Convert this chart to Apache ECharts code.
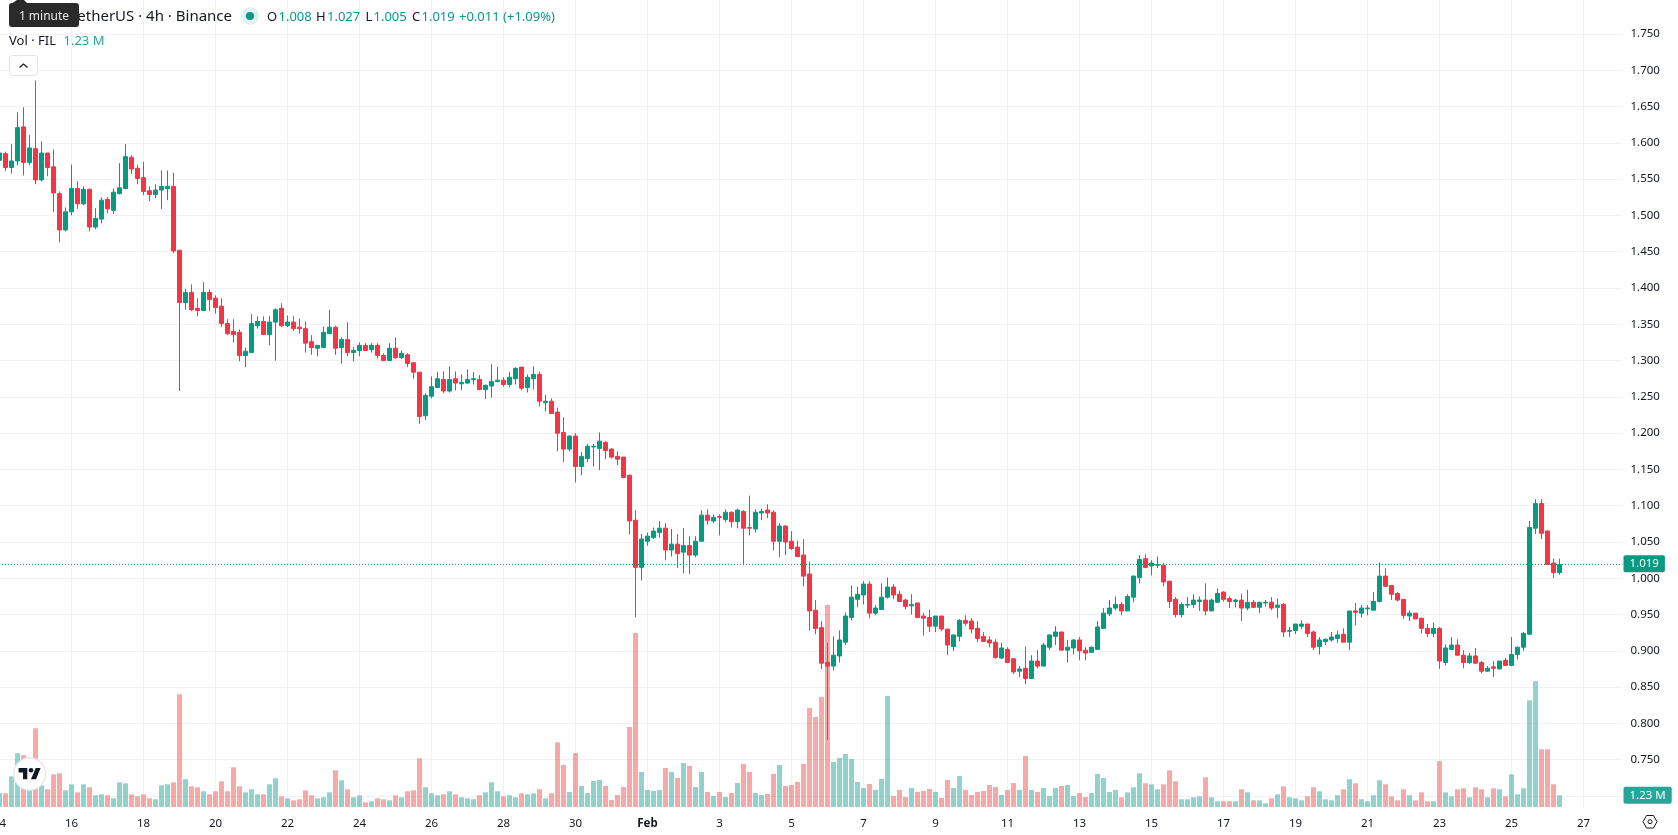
<!DOCTYPE html>
<html>
<head>
<meta charset="utf-8">
<title>FIL / TetherUS 4h</title>
<style>
  html, body { margin: 0; padding: 0; background: #fff; }
  #chart { width: 1678px; height: 835px; }
</style>
<script src="https://cdn.jsdelivr.net/npm/echarts@6/dist/echarts.min.js"></script>
</head>
<body>
<div id="chart"></div>
<script>
// FIL/USDT 4h bars, oldest first, one bar every four hours from 14 Jan.
const open = [
1.576,1.585,1.566,1.575,1.622,1.573,1.592,1.549,1.586,1.567,
1.530,1.480,1.505,1.537,1.516,1.536,1.484,1.495,1.522,1.507,
1.530,1.537,1.580,1.565,1.552,1.534,1.529,1.535,1.537,1.540,
1.452,1.380,1.394,1.372,1.369,1.394,1.386,1.375,1.351,1.340,
1.339,1.307,1.311,1.348,1.354,1.336,1.353,1.372,1.348,1.353,
1.346,1.344,1.326,1.317,1.318,1.337,1.346,1.318,1.329,1.311,
1.314,1.321,1.315,1.321,1.307,1.300,1.317,1.304,1.308,1.297,
1.284,1.224,1.251,1.263,1.274,1.258,1.275,1.268,1.269,1.274,
1.274,1.260,1.265,1.271,1.273,1.267,1.275,1.291,1.263,1.275,
1.281,1.242,1.244,1.229,1.201,1.178,1.196,1.154,1.165,1.181,
1.179,1.187,1.178,1.168,1.167,1.142,1.080,1.015,1.051,1.056,
1.063,1.069,1.039,1.047,1.036,1.045,1.032,1.051,1.087,1.079,
1.085,1.081,1.091,1.078,1.092,1.070,1.068,1.090,1.094,1.091,
1.051,1.072,1.051,1.043,1.032,1.006,0.956,0.932,0.884,0.879,
0.893,0.912,0.946,0.971,0.977,0.992,0.952,0.957,0.974,0.988,
0.978,0.970,0.962,0.966,0.948,0.946,0.934,0.948,0.930,0.906,
0.920,0.942,0.941,0.931,0.920,0.915,0.912,0.890,0.902,0.889,
0.872,0.876,0.862,0.886,0.879,0.905,0.920,0.926,0.901,0.904,
0.915,0.901,0.898,0.902,0.931,0.951,0.959,0.964,0.955,0.974,
1.001,1.027,1.017,1.018,1.018,0.996,0.971,0.950,0.963,0.964,
0.968,0.970,0.955,0.967,0.981,0.972,0.968,0.970,0.959,0.967,
0.960,0.966,0.967,0.960,0.964,0.927,0.928,0.934,0.937,0.926,
0.906,0.913,0.915,0.917,0.923,0.912,0.955,0.952,0.958,0.956,
0.968,1.003,0.990,0.979,0.971,0.948,0.952,0.945,0.931,0.924,
0.931,0.884,0.902,0.908,0.894,0.884,0.893,0.884,0.872,0.878,
0.875,0.887,0.880,0.895,0.905,0.923,1.069,1.103,1.065,1.021,
1.008];

const high = [
1.593,1.588,1.598,1.642,1.649,1.611,1.686,1.602,1.586,1.591,
1.533,1.511,1.570,1.547,1.540,1.537,1.510,1.525,1.525,1.537,
1.572,1.598,1.583,1.570,1.574,1.540,1.543,1.562,1.562,1.559,
1.452,1.399,1.405,1.386,1.408,1.398,1.390,1.386,1.357,1.357,
1.343,1.318,1.364,1.361,1.361,1.361,1.372,1.379,1.362,1.361,
1.358,1.354,1.335,1.321,1.347,1.370,1.348,1.332,1.353,1.319,
1.325,1.324,1.324,1.324,1.310,1.324,1.332,1.314,1.310,1.297,
1.284,1.255,1.278,1.284,1.285,1.292,1.285,1.281,1.288,1.284,
1.280,1.267,1.295,1.291,1.277,1.284,1.291,1.291,1.281,1.292,
1.285,1.253,1.248,1.235,1.222,1.197,1.200,1.174,1.185,1.185,
1.201,1.189,1.179,1.175,1.167,1.143,1.094,1.061,1.063,1.070,
1.079,1.076,1.068,1.061,1.069,1.058,1.058,1.094,1.095,1.088,
1.088,1.095,1.092,1.096,1.094,1.114,1.095,1.096,1.102,1.094,
1.076,1.073,1.065,1.052,1.054,1.023,0.970,0.941,0.911,0.920,
0.928,0.953,0.990,0.988,0.996,0.996,0.963,0.993,1.001,0.992,
0.983,0.972,0.978,0.966,0.952,0.957,0.948,0.948,0.930,0.922,
0.944,0.949,0.945,0.941,0.926,0.920,0.916,0.911,0.905,0.890,
0.879,0.906,0.894,0.901,0.911,0.922,0.934,0.926,0.915,0.916,
0.919,0.905,0.906,0.941,0.959,0.970,0.975,0.967,0.978,1.004,
1.032,1.033,1.025,1.030,1.021,0.997,0.974,0.967,0.974,0.978,
0.975,0.993,0.972,0.986,0.982,0.975,0.972,0.979,0.984,0.970,
0.967,0.970,0.974,0.972,0.966,0.933,0.937,0.942,0.937,0.928,
0.919,0.917,0.926,0.928,0.931,0.955,0.966,0.963,0.963,0.981,
1.022,1.014,0.990,0.981,0.971,0.956,0.952,0.945,0.937,0.939,
0.933,0.909,0.919,0.916,0.901,0.897,0.904,0.886,0.879,0.886,
0.886,0.890,0.919,0.906,0.926,1.079,1.109,1.109,1.066,1.027,
1.027];

const low = [
1.572,1.561,1.558,1.569,1.555,1.569,1.543,1.547,1.554,1.505,
1.463,1.478,1.500,1.509,1.514,1.478,1.481,1.489,1.503,1.502,
1.529,1.536,1.557,1.543,1.528,1.520,1.524,1.509,1.521,1.448,
1.258,1.370,1.368,1.361,1.368,1.368,1.365,1.346,1.335,1.325,
1.299,1.291,1.311,1.344,1.335,1.321,1.300,1.346,1.346,1.341,
1.337,1.311,1.308,1.306,1.317,1.337,1.308,1.296,1.306,1.299,
1.306,1.313,1.311,1.303,1.299,1.300,1.302,1.302,1.291,1.275,
1.213,1.218,1.248,1.262,1.255,1.256,1.259,1.259,1.268,1.267,
1.259,1.247,1.249,1.271,1.264,1.263,1.267,1.259,1.256,1.260,
1.237,1.230,1.227,1.175,1.160,1.175,1.132,1.142,1.160,1.154,
1.149,1.164,1.165,1.156,1.138,1.061,0.946,0.997,1.045,1.054,
1.056,1.025,1.030,1.014,1.007,1.006,1.029,1.051,1.074,1.076,
1.059,1.077,1.070,1.069,1.018,1.059,1.063,1.080,1.083,1.039,
1.029,1.032,1.039,1.029,0.989,0.928,0.923,0.875,0.777,0.873,
0.884,0.908,0.942,0.960,0.964,0.945,0.949,0.957,0.972,0.971,
0.967,0.957,0.950,0.946,0.921,0.926,0.926,0.927,0.894,0.900,
0.913,0.934,0.924,0.912,0.912,0.905,0.889,0.889,0.883,0.868,
0.864,0.854,0.861,0.876,0.879,0.901,0.908,0.901,0.884,0.895,
0.887,0.887,0.897,0.902,0.930,0.948,0.956,0.949,0.955,0.967,
0.993,1.014,1.004,1.014,0.989,0.959,0.946,0.946,0.959,0.959,
0.955,0.949,0.955,0.966,0.968,0.959,0.960,0.941,0.956,0.959,
0.952,0.961,0.956,0.945,0.919,0.919,0.923,0.930,0.919,0.901,
0.895,0.908,0.913,0.911,0.912,0.901,0.935,0.946,0.949,0.956,
0.967,0.988,0.970,0.968,0.944,0.941,0.944,0.924,0.919,0.919,
0.875,0.880,0.901,0.893,0.876,0.882,0.882,0.869,0.871,0.864,
0.875,0.879,0.879,0.888,0.900,0.922,1.061,1.054,1.019,1.000,
1.005];

const close = [
1.586,1.566,1.575,1.621,1.573,1.593,1.549,1.586,1.566,1.531,
1.480,1.505,1.537,1.516,1.536,1.484,1.496,1.521,1.509,1.532,
1.538,1.581,1.564,1.551,1.533,1.529,1.535,1.540,1.540,1.451,
1.380,1.394,1.370,1.369,1.394,1.384,1.373,1.351,1.337,1.336,
1.307,1.313,1.351,1.354,1.336,1.353,1.370,1.348,1.353,1.344,
1.344,1.324,1.318,1.321,1.339,1.346,1.317,1.329,1.311,1.314,
1.321,1.314,1.321,1.307,1.300,1.317,1.304,1.310,1.296,1.284,
1.223,1.252,1.264,1.275,1.258,1.274,1.269,1.270,1.274,1.275,
1.260,1.266,1.271,1.273,1.267,1.277,1.289,1.262,1.277,1.281,
1.244,1.244,1.227,1.200,1.178,1.196,1.154,1.168,1.182,1.182,
1.189,1.176,1.167,1.164,1.139,1.079,1.015,1.054,1.058,1.065,
1.069,1.039,1.047,1.034,1.045,1.032,1.051,1.087,1.080,1.084,
1.084,1.091,1.078,1.094,1.069,1.069,1.091,1.092,1.090,1.051,
1.072,1.050,1.041,1.030,1.003,0.955,0.931,0.883,0.879,0.894,
0.915,0.948,0.974,0.978,0.992,0.952,0.959,0.974,0.988,0.977,
0.968,0.961,0.964,0.946,0.945,0.934,0.948,0.930,0.908,0.922,
0.942,0.938,0.930,0.917,0.913,0.911,0.891,0.904,0.884,0.871,
0.875,0.862,0.886,0.879,0.908,0.922,0.926,0.901,0.905,0.915,
0.900,0.897,0.905,0.933,0.952,0.959,0.964,0.955,0.975,1.003,
1.026,1.015,1.021,1.019,0.995,0.968,0.950,0.964,0.964,0.970,
0.970,0.955,0.970,0.979,0.971,0.968,0.970,0.959,0.967,0.960,
0.967,0.967,0.959,0.963,0.926,0.928,0.937,0.937,0.924,0.905,
0.915,0.916,0.919,0.922,0.912,0.955,0.953,0.959,0.959,0.968,
1.003,0.989,0.978,0.970,0.949,0.952,0.944,0.931,0.924,0.931,
0.886,0.904,0.908,0.894,0.884,0.893,0.883,0.872,0.876,0.876,
0.886,0.880,0.895,0.905,0.924,1.070,1.103,1.062,1.019,1.008,
1.019];

// Traded volume per bar, in millions of FIL.
const volume = [
1.44,1.44,3.22,5.64,5.43,1.75,8.26,2.28,1.86,3.43,
3.54,1.75,2.38,1.54,2.38,2.07,1.23,1.33,1.23,0.91,
2.59,2.49,1.33,1.12,1.33,0.91,0.81,2.28,2.38,2.59,
11.83,2.91,2.17,2.07,1.65,1.33,1.65,2.70,1.65,4.17,
2.17,1.54,1.86,1.33,1.33,2.38,3.01,1.12,0.91,0.70,
0.81,1.75,1.23,0.91,1.02,1.54,3.85,2.80,1.86,1.02,
1.23,0.49,0.60,0.91,0.81,0.70,1.23,1.02,1.65,1.75,
5.11,2.07,1.44,1.23,1.33,1.65,1.33,1.02,0.91,0.81,
1.23,1.54,2.59,1.65,1.12,1.23,1.02,1.44,1.33,1.44,
1.86,0.91,1.44,6.79,4.41,1.58,5.67,2.21,1.47,2.73,
2.84,2.21,0.74,1.26,2.10,8.40,18.27,3.68,1.79,1.68,
1.79,4.10,3.68,3.05,4.62,4.31,2.10,3.68,1.58,1.16,
1.58,1.05,1.47,2.52,4.52,3.68,1.47,1.26,1.37,3.47,
4.41,2.21,2.31,2.63,4.52,10.40,9.45,11.55,21.21,4.73,
5.15,5.57,5.04,2.63,2.00,2.42,1.79,2.94,11.66,1.16,
1.79,1.05,2.00,1.58,1.68,1.89,1.58,0.95,2.84,2.00,
3.26,1.79,1.26,1.58,1.68,2.31,2.10,1.26,1.79,2.52,
1.79,5.36,1.79,1.58,2.00,1.16,2.00,2.21,2.31,1.16,
1.47,1.05,1.47,3.47,3.05,1.58,1.79,1.02,1.54,2.07,
3.54,2.49,2.38,1.86,2.38,3.85,2.70,0.81,0.81,1.02,
1.12,3.12,1.02,0.60,0.60,0.60,0.60,1.86,1.54,0.70,
0.70,0.39,0.91,1.33,2.17,1.02,0.91,0.70,1.12,2.07,
1.65,0.81,0.70,1.23,1.86,2.91,2.49,0.81,0.60,1.23,
2.80,2.38,1.12,0.70,1.86,1.23,0.70,1.54,0.60,0.60,
4.80,1.54,1.12,1.86,1.96,1.02,2.07,1.86,1.02,1.96,
1.86,1.12,3.43,1.33,1.96,11.20,13.20,6.06,6.06,2.38,
1.23];

// One date label every 12 bars (two days).
const dayLabels = ['14','16','18','20','22','24','26','28','30','Feb','3','5','7','9','11','13','15','17','19','21','23','25','27'];
const priceLabels = ['1.750','1.700','1.650','1.600','1.550','1.500','1.450','1.400','1.350','1.300','1.250','1.200','1.150','1.100','1.050','1.000','0.950','0.900','0.850','0.800','0.750'];

const lastPrice = 1.019;
const lastVolume = 1.23;

const barsPerLabel = 12;
const slotCount = 271;   // bars plus the empty slots up to the right edge
const categories = Array.from({ length: slotCount }, (_, i) =>
  i % barsPerLabel === 0 ? (dayLabels[i / barsPerLabel] || '') : '');

const UP = '#089981', DOWN = '#F23645';
const VOL_UP = 'rgba(38,166,154,0.5)', VOL_DOWN = 'rgba(239,83,80,0.5)';
const TAG_VOL = '#26a69a';
const GRID_LINE = '#f1f1f3';
const INK = '#131722';
const FONT = '"Noto Sans", sans-serif';
const AXIS_SIZE = 11.5;

const candleData = open.map((o, i) => [o, close[i], low[i], high[i]]);
const volumeData = volume.map((v, i) => ({
  value: v,
  itemStyle: { color: close[i] >= open[i] ? VOL_UP : VOL_DOWN }
}));

// Pieces of the header row, laid out from their left edge.
function legendText(x, y, text, fill, size) {
  return { type: 'text', x: x, y: y, z: 20, silent: true,
    style: { text: text, fill: fill, font: (size || 14) + 'px ' + FONT, textVerticalAlign: 'middle' } };
}

const headerY = 17, volRowY = 41;
const graphicElements = [
  // symbol line, drawn up to the status dot; its left end sits under the hint box
  { type: 'text', x: 232, y: headerY, z: 20, silent: true,
    style: { text: 'FIL / TetherUS · 4h · Binance', fill: INK, font: '15px ' + FONT, textAlign: 'right', textVerticalAlign: 'middle' } },
  { type: 'circle', shape: { cx: 250, cy: 16, r: 9 }, z: 20, silent: true, style: { fill: 'rgba(8,153,129,0.12)' } },
  { type: 'circle', shape: { cx: 250, cy: 16, r: 4 }, z: 21, silent: true, style: { fill: UP } },
  legendText(267, headerY, 'O', INK, 13),
  legendText(278.5, headerY, '1.008', UP, 13),
  legendText(316, headerY, 'H', INK, 13),
  legendText(327, headerY, '1.027', UP, 13),
  legendText(365.5, headerY, 'L', INK, 13),
  legendText(373.5, headerY, '1.005', UP, 13),
  legendText(412, headerY, 'C', INK, 13),
  legendText(421.5, headerY, '1.019', UP, 13),
  legendText(459, headerY, '+0.011 (+1.09%)', UP, 13),

  legendText(9, volRowY, 'Vol · FIL', INK, 13),
  legendText(63.5, volRowY, '1.23 M', TAG_VOL, 13),

  // hint box
  { type: 'polygon', shape: { points: [[11, 4], [17, 0], [24, 0], [28, 4]] }, z: 30, silent: true, style: { fill: '#2a2a2a' } },
  { type: 'rect', shape: { x: 9, y: 3, width: 70, height: 24, r: 3 }, z: 30, silent: true, style: { fill: '#2a2a2a' } },
  { type: 'text', x: 44, y: 16.5, z: 31, silent: true,
    style: { text: '1 minute', fill: '#e8e8e8', font: '12px ' + FONT, textAlign: 'center', textVerticalAlign: 'middle' } },

  // collapse button
  { type: 'rect', shape: { x: 9.5, y: 55.5, width: 28, height: 20, r: 3 }, z: 20, silent: true,
    style: { fill: '#fff', stroke: '#e0e3eb', lineWidth: 1 } },
  { type: 'polyline', shape: { points: [[19.5, 67.5], [23.5, 64], [27.5, 67.5]] }, z: 21, silent: true,
    style: { fill: 'none', stroke: INK, lineWidth: 1.2 } },

  // logo badge
  { type: 'circle', shape: { cx: 29.6, cy: 774, r: 16 }, z: 20, silent: true,
    style: { fill: '#fff', stroke: '#e9e9ec', lineWidth: 1.5 } },
  { type: 'polygon', shape: { points: [[18.6, 768], [27.3, 768], [27.3, 779.2], [23, 779.2], [23, 772.4], [18.6, 772.4]] }, z: 21, silent: true, style: { fill: INK } },
  { type: 'polygon', shape: { points: [[31, 779.2], [35.7, 768], [40.6, 768], [36, 779.2]] }, z: 21, silent: true, style: { fill: INK } },
  { type: 'circle', shape: { cx: 31, cy: 770.2, r: 2.3 }, z: 21, silent: true, style: { fill: INK } },

  // settings glyph in the axis corner
  { type: 'polygon', shape: { points: [[1643, 821.7], [1646.5, 815.5], [1653.5, 815.5], [1657, 821.7], [1653.5, 828], [1646.5, 828]] }, z: 20, silent: true,
    style: { fill: 'none', stroke: INK, lineWidth: 1 } },
  { type: 'circle', shape: { cx: 1650, cy: 821.7, r: 2 }, z: 20, silent: true,
    style: { fill: 'none', stroke: INK, lineWidth: 1 } }
];

const option = {
  animation: false,
  backgroundColor: '#ffffff',
  textStyle: { fontFamily: FONT },
  grid: [
    // price pane: 0.65 to 1.85, running past the canvas so ticks fall on multiples of 0.05
    { left: -3.5, width: 1626, top: -38.56, height: 870.85, outerBoundsMode: 'none' },
    // volume pane sharing the same columns, ending on the date row
    { left: -3.5, width: 1626, top: 0, height: 807, outerBoundsMode: 'none' }
  ],
  xAxis: [
    { type: 'category', gridIndex: 0, data: categories, show: false, boundaryGap: true },
    { type: 'category', gridIndex: 1, data: categories, boundaryGap: true,
      axisLine: { show: false },
      axisTick: { show: false },
      splitLine: { show: true, alignWithLabel: true, interval: i => i % barsPerLabel === 0,
        lineStyle: { color: GRID_LINE, width: 1 } },
      axisLabel: { show: true, margin: 11, interval: i => i % barsPerLabel === 0, hideOverlap: false,
        color: INK, fontSize: AXIS_SIZE, fontFamily: FONT,
        formatter: v => v === 'Feb' ? '{bold|Feb}' : v,
        rich: { bold: { fontWeight: 'bold', fontSize: AXIS_SIZE, color: INK, fontFamily: FONT } } } }
  ],
  yAxis: [
    { type: 'value', gridIndex: 0, position: 'right', min: 0.65, max: 1.85, interval: 0.05,
      axisLine: { show: false }, axisTick: { show: false },
      splitLine: { show: true, showMinLine: false, showMaxLine: false, lineStyle: { color: GRID_LINE, width: 1 } },
      axisLabel: { margin: 8, color: INK, fontSize: AXIS_SIZE, fontFamily: FONT, align: 'left',
        formatter: v => { const t = v.toFixed(3); return priceLabels.includes(t) ? t : ''; } } },
    { type: 'value', gridIndex: 1, min: 0, max: 84.7, show: false, splitLine: { show: false } }
  ],
  series: [
    { type: 'bar', name: 'Volume', xAxisIndex: 1, yAxisIndex: 1, data: volumeData, barWidth: 5, z: 2, silent: true,
      markLine: {
        silent: true, symbol: 'none', z: 10,
        lineStyle: { color: 'rgba(0,0,0,0)', width: 1, opacity: 1 },
        label: { show: true, position: 'end', distance: 1, formatter: lastVolume + ' M', color: '#fff', fontSize: AXIS_SIZE, fontFamily: FONT,
          backgroundColor: TAG_VOL, padding: [3, 6, 2, 6], borderRadius: 2 },
        data: [{ yAxis: lastVolume }]
      } },
    { type: 'candlestick', name: 'FILUSDT', xAxisIndex: 0, yAxisIndex: 0, data: candleData, barWidth: 4, z: 4, silent: true,
      itemStyle: { color: UP, color0: DOWN, borderColor: UP, borderColor0: DOWN, borderWidth: 1 },
      markLine: {
        silent: true, symbol: 'none', z: 3,
        lineStyle: { color: UP, type: [1, 2], dashOffset: 0.5, width: 1, opacity: 1 },
        label: { position: 'end', distance: 1, formatter: lastPrice.toFixed(3), color: '#fff', fontSize: AXIS_SIZE, fontFamily: FONT,
          backgroundColor: UP, padding: [3, 6, 2, 6], borderRadius: 2 },
        data: [{ yAxis: lastPrice }]
      } }
  ],
  graphic: { elements: graphicElements }
};

const chart = echarts.init(document.getElementById('chart'), null, { renderer: 'canvas', width: 1678, height: 835 });
chart.setOption(option);
</script>
</body>
</html>
